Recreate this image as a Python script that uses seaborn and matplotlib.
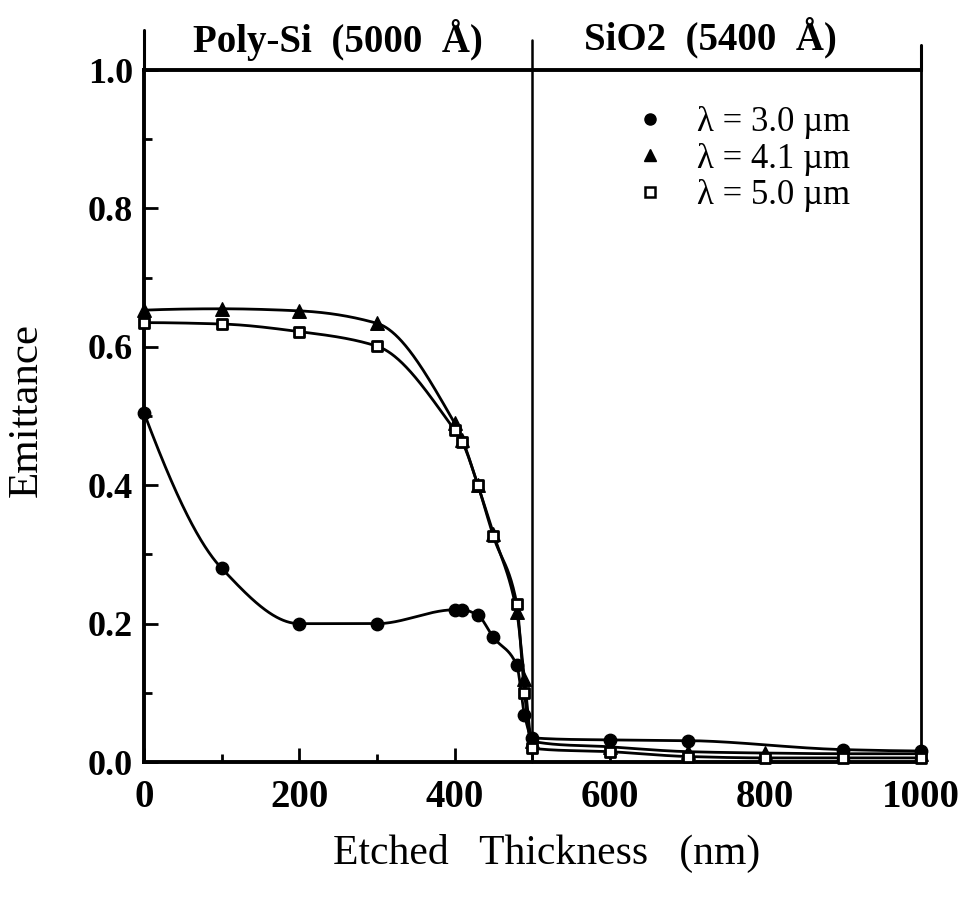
import numpy as np
import pandas as pd
import matplotlib
matplotlib.use("Agg")
import matplotlib.pyplot as plt
from matplotlib.lines import Line2D
import seaborn as sns

# Emittance vs. etched thickness for three wavelengths
x_30 = [0, 100, 200, 300, 400, 410, 430, 450, 480, 490, 500, 600, 700, 900, 1000]
y_30 = [0.505, 0.280, 0.200, 0.200, 0.220, 0.220, 0.212, 0.180, 0.140, 0.068, 0.035,
        0.032, 0.031, 0.018, 0.016]

x_41 = [0, 100, 200, 300, 400, 410, 430, 450, 480, 490, 500, 600, 700, 800, 900, 1000]
y_41 = [0.653, 0.655, 0.652, 0.634, 0.490, 0.466, 0.400, 0.330, 0.217, 0.120, 0.030,
        0.022, 0.015, 0.013, 0.012, 0.012]

x_50 = [0, 100, 200, 300, 400, 410, 430, 450, 480, 490, 500, 600, 700, 800, 900, 1000]
y_50 = [0.635, 0.633, 0.622, 0.601, 0.480, 0.462, 0.400, 0.326, 0.229, 0.100, 0.020,
        0.015, 0.008, 0.006, 0.006, 0.006]

legend_labels = ["λ = 3.0 µm", "λ = 4.1 µm", "λ = 5.0 µm"]
x_ticks = [0, 200, 400, 600, 800, 1000]
y_ticks = [0.0, 0.2, 0.4, 0.6, 0.8, 1.0]
layer_labels = ["Poly-Si  (5000  Å)", "SiO2  (5400  Å)"]
boundary = 500


def pchip(x, y, xs):
    """Shape-preserving piecewise cubic through the measured points."""
    x = np.asarray(x, float)
    y = np.asarray(y, float)
    h = np.diff(x)
    d = np.diff(y) / h
    m = np.zeros_like(y)
    for k in range(1, len(x) - 1):
        if d[k - 1] * d[k] > 0:
            w1 = 2 * h[k] + h[k - 1]
            w2 = h[k] + 2 * h[k - 1]
            m[k] = (w1 + w2) / (w1 / d[k - 1] + w2 / d[k])

    def end_slope(h0, h1, d0, d1):
        s = ((2 * h0 + h1) * d0 - h0 * d1) / (h0 + h1)
        if np.sign(s) != np.sign(d0):
            return 0.0
        if np.sign(d0) != np.sign(d1) and abs(s) > abs(3 * d0):
            return 3 * d0
        return s

    m[0] = end_slope(h[0], h[1], d[0], d[1])
    m[-1] = end_slope(h[-1], h[-2], d[-1], d[-2])
    idx = np.clip(np.searchsorted(x, xs) - 1, 0, len(x) - 2)
    t = (xs - x[idx]) / h[idx]
    h00 = 2 * t**3 - 3 * t**2 + 1
    h10 = t**3 - 2 * t**2 + t
    h01 = -2 * t**3 + 3 * t**2
    h11 = t**3 - t**2
    return (h00 * y[idx] + h10 * h[idx] * m[idx]
            + h01 * y[idx + 1] + h11 * h[idx] * m[idx + 1])


sns.set_theme(style="white")
plt.rcParams["font.family"] = ["Liberation Serif", "DejaVu Serif"]
plt.rcParams["text.color"] = "black"
plt.rcParams["xtick.color"] = "black"
plt.rcParams["ytick.color"] = "black"
plt.rcParams["axes.labelcolor"] = "black"

fig = plt.figure(figsize=(9.66, 8.98), dpi=100)
ax = fig.add_axes([0.149, 0.1514, 0.804, 0.7706])

series = [
    (x_30, y_30, dict(marker="o", s=80, color="black", edgecolor="black", linewidth=1)),
    (x_41, y_41, dict(marker="^", s=95, color="black", edgecolor="black", linewidth=1)),
    (x_50, y_50, dict(marker="s", s=60, facecolor="white", edgecolor="black", linewidth=2)),
]

for xv, yv, mk in series:
    xs = np.linspace(xv[0], xv[-1], 1200)
    curve = pd.DataFrame({"x": xs, "y": pchip(xv, yv, xs)})
    sns.lineplot(data=curve, x="x", y="y", ax=ax, color="black", lw=2.0,
                 estimator=None, sort=False, zorder=2)

for i, (xv, yv, mk) in enumerate(series):
    pts = pd.DataFrame({"x": xv, "y": yv})
    sns.scatterplot(data=pts, x="x", y="y", ax=ax, zorder=3 + i, clip_on=False, **mk)

ax.set_xlim(0, 1000)
ax.set_ylim(0, 1.0)
ax.set_xlabel("")
ax.set_ylabel("")

ax.set_xticks(x_ticks)
ax.set_xticks(np.arange(100, 1000, 200), minor=True)
ax.set_yticks(y_ticks)
ax.set_yticks(np.arange(0.1, 1.0, 0.2), minor=True)
ax.set_xticklabels([str(v) for v in x_ticks], fontsize=28, fontweight="bold")
ax.set_yticklabels([f"{v:.1f}" for v in y_ticks], fontsize=26, fontweight="bold")
ax.tick_params(which="major", direction="in", length=10, width=2, color="black",
               bottom=True, left=True, top=False, right=False)
ax.tick_params(which="minor", direction="in", length=6, width=2, color="black",
               bottom=True, left=True, top=False, right=False)
ax.tick_params(axis="x", which="major", pad=12)
ax.tick_params(axis="y", which="major", pad=8)

for side, lw in [("left", 2.8), ("bottom", 2.8), ("top", 2.8), ("right", 2.0)]:
    ax.spines[side].set_color("black")
    ax.spines[side].set_linewidth(lw)

# layer boundary and separators above the frame
ax.axvline(boundary, ymin=0, ymax=1.043, color="black", lw=1.8, clip_on=False)
ax.axvline(0, ymin=1.0, ymax=1.058, color="black", lw=2.2, clip_on=False)
ax.axvline(1000, ymin=1.0, ymax=1.036, color="black", lw=2.2, clip_on=False)

handles = [
    Line2D([], [], linestyle="none", marker="o", markersize=8, color="black"),
    Line2D([], [], linestyle="none", marker="^", markersize=8, color="black"),
    Line2D([], [], linestyle="none", marker="s", markersize=7, markerfacecolor="white",
           markeredgecolor="black", markeredgewidth=1.8),
]
ax.legend(handles, legend_labels, loc="upper left", bbox_to_anchor=(0.60, 0.968),
          frameon=False, fontsize=25, handletextpad=0.6, labelspacing=0.1,
          borderaxespad=0, handlelength=1.5)

fig.text(338 / 966, 1 - 40 / 898, layer_labels[0], ha="center", va="center",
         fontsize=28, fontweight="bold")
fig.text(710 / 966, 1 - 38 / 898, layer_labels[1], ha="center", va="center",
         fontsize=28, fontweight="bold")
fig.text(547 / 966, 1 - 853 / 898, "Etched   Thickness   (nm)", ha="center", va="center",
         fontsize=30)
fig.text(27 / 966, 1 - 410 / 898, "Emittance", ha="center", va="center",
         rotation=90, fontsize=31)

fig.savefig("out.png", dpi=100)
